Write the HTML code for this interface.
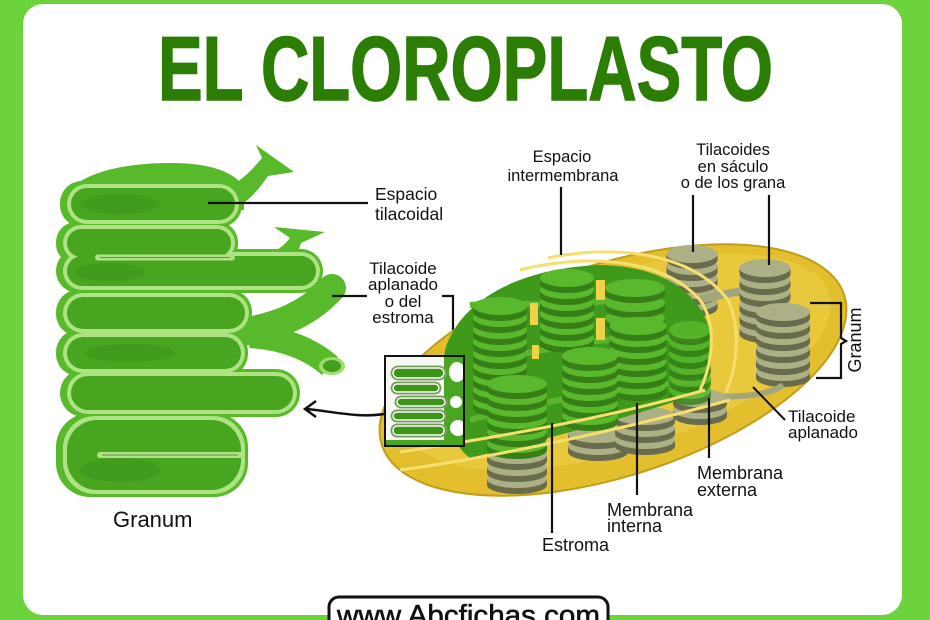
<!DOCTYPE html>
<html><head><meta charset="utf-8">
<style>
html,body{margin:0;padding:0;background:#6cd33d;}
body{width:930px;height:620px;overflow:hidden;}
svg{display:block}
text{font-family:"Liberation Sans",sans-serif;fill:#111;}
</style></head><body>
<svg width="930" height="620" viewBox="0 0 930 620" xmlns="http://www.w3.org/2000/svg">
<defs>
  <g id="dg">
    <ellipse cx="0" cy="6" rx="30" ry="9" fill="#357f16"/>
    <rect x="-30" y="0" width="60" height="6" fill="#357f16"/>
    <ellipse cx="0" cy="0" rx="30" ry="9" fill="#5ab82c"/>
  </g>
  <g id="dy">
    <ellipse cx="0" cy="6" rx="30" ry="9" fill="#686b4c"/>
    <rect x="-30" y="0" width="60" height="6" fill="#686b4c"/>
    <ellipse cx="0" cy="0" rx="30" ry="9" fill="#adb085"/>
  </g>
  <clipPath id="inset"><rect x="385" y="356" width="79" height="90"/></clipPath>
</defs>

<rect width="930" height="620" fill="#6cd33d"/>
<rect x="23" y="4" width="879" height="611" rx="20" fill="#fff"/>

<text x="158" y="100" font-size="91" font-weight="bold" textLength="615" lengthAdjust="spacingAndGlyphs" style="fill:#2b7d04;stroke:#2b7d04;stroke-width:1.5">EL CLOROPLASTO</text>

<!-- LEFT GRANUM -->
<g>
  <!-- mid-green body -->
  <g fill="#58b92b">
    <path d="M64,205 C66,175 120,163 170,163 C212,163 232,172 244,186 L244,210 Z"/>
    <path d="M212,194 C238,186 250,172 262,158 L256,145 L294,172 L268,176 C256,194 242,208 222,214 Z"/>
    <path d="M255,262 C272,255 284,246 290,238 L274,227 L325,232 L301,243 C297,256 291,268 280,276 Z"/>
    <rect x="60" y="181" width="182" height="46" rx="22"/>
    <rect x="56" y="222" width="182" height="42" rx="20"/>
    <rect x="56" y="249" width="267" height="44" rx="22"/>
    <rect x="56" y="290" width="196" height="46" rx="22"/>
    <rect x="56" y="330" width="192" height="46" rx="22"/>
    <rect x="60" y="369" width="240" height="48" rx="24"/>
    <rect x="56" y="413" width="192" height="84" rx="34"/>
  </g>
  <!-- branch -->
  <path d="M232,334 C270,328 305,318 332,288" stroke="#58b92b" stroke-width="28" fill="none" stroke-linecap="round"/>
  <path d="M250,336 C285,338 312,350 330,366" stroke="#58b92b" stroke-width="24" fill="none"/>
  <ellipse cx="332" cy="366" rx="13" ry="9" fill="#9fdc6e"/>
  <ellipse cx="332" cy="366" rx="9" ry="6" fill="#449f1e"/>

  <!-- lumen rims -->
  <g fill="#aee383">
    <rect x="67" y="184" width="172" height="40" rx="20"/>
    <rect x="63" y="225" width="172" height="36" rx="18"/>
    <rect x="63" y="252" width="257" height="38" rx="19"/>
    <rect x="63" y="293" width="186" height="40" rx="20"/>
    <rect x="63" y="333" width="182" height="40" rx="20"/>
    <rect x="67" y="372" width="230" height="42" rx="21"/>
    <rect x="63" y="416" width="182" height="78" rx="32"/>
  </g>
  <!-- lumen interiors -->
  <g fill="#47a520">
    <rect x="71" y="188" width="164" height="32" rx="16"/>
    <rect x="67" y="229" width="164" height="28" rx="14"/>
    <rect x="67" y="256" width="249" height="30" rx="15"/>
    <rect x="67" y="297" width="178" height="32" rx="16"/>
    <rect x="67" y="337" width="174" height="32" rx="16"/>
    <rect x="71" y="376" width="222" height="34" rx="17"/>
    <rect x="67" y="420" width="174" height="70" rx="30"/>
  </g>
  <g fill="#3c9419" opacity="0.5">
    <ellipse cx="120" cy="204" rx="40" ry="10"/>
    <ellipse cx="110" cy="272" rx="35" ry="9"/>
    <ellipse cx="130" cy="353" rx="45" ry="9"/>
    <ellipse cx="120" cy="470" rx="40" ry="12"/>
  </g>
  <path d="M98,257.5 L232,257.5" stroke="#aee383" stroke-width="6" stroke-linecap="round"/>
  <path d="M100,257.5 L230,257.5" stroke="#6f8a50" stroke-width="1"/>
  <path d="M100,455 L241,455" stroke="#aee383" stroke-width="6" stroke-linecap="round"/>
  <path d="M102,455 L238,455" stroke="#6f8a50" stroke-width="1"/>
</g>

<text x="113" y="527" font-size="22">Granum</text>

<!-- left labels -->
<line x1="208" y1="203" x2="368" y2="203" stroke="#111" stroke-width="2.2"/>
<text x="375" y="200" font-size="17.5">Espacio</text>
<text x="375" y="220" font-size="17.5">tilacoidal</text>

<text x="403" y="274" font-size="17" text-anchor="middle">Tilacoide</text>
<text x="403" y="290" font-size="17" text-anchor="middle">aplanado</text>
<text x="403" y="307" font-size="17" text-anchor="middle">o del</text>
<text x="403" y="323" font-size="17" text-anchor="middle">estroma</text>
<line x1="332" y1="296" x2="367" y2="296" stroke="#111" stroke-width="2.2"/>
<polyline points="442,296 453,296 453,358" fill="none" stroke="#111" stroke-width="2.2"/>

<!-- CHLOROPLAST -->
<ellipse cx="613" cy="370" rx="243" ry="106" transform="rotate(-18 613 370)" fill="#e3bf2e" stroke="#c29d1a" stroke-width="2"/>
<ellipse cx="618" cy="362" rx="222" ry="88" transform="rotate(-18 618 362)" fill="#e9c93c"/>

<!-- back gray stacks -->
<g transform="translate(692,0) scale(0.85,1)">
  <use href="#dy" y="302"/><use href="#dy" y="290"/><use href="#dy" y="278"/><use href="#dy" y="266"/><use href="#dy" y="254"/>
</g>
<path d="M700,300 C720,295 740,290 760,290" stroke="#a3a67a" stroke-width="8" fill="none"/>
<g transform="translate(765,0) scale(0.85,1)">
  <use href="#dy" y="328"/><use href="#dy" y="316"/><use href="#dy" y="304"/><use href="#dy" y="292"/><use href="#dy" y="280"/><use href="#dy" y="268"/>
</g>
<g transform="translate(783,0) scale(0.9,1)">
  <use href="#dy" y="372"/><use href="#dy" y="360"/><use href="#dy" y="348"/><use href="#dy" y="336"/><use href="#dy" y="324"/><use href="#dy" y="312"/>
</g>
<path d="M783,385 C770,395 740,398 700,396" stroke="#a3a67a" stroke-width="6" fill="none"/>

<!-- bottom gray stacks -->
<g transform="translate(517,0)"><use href="#dy" y="479"/><use href="#dy" y="467"/><use href="#dy" y="455"/></g>
<g transform="translate(598,0)"><use href="#dy" y="446"/><use href="#dy" y="434"/></g>
<g transform="translate(645,0)"><use href="#dy" y="440"/><use href="#dy" y="428"/><use href="#dy" y="416"/></g>
<g transform="translate(700,0) scale(0.9,1)"><use href="#dy" y="410"/><use href="#dy" y="398"/></g>

<!-- green stroma region -->
<path d="M445,350 C460,300 520,268 600,265 C665,266 705,295 712,340 L708,390 C640,415 560,435 470,458 C445,440 440,390 445,350 Z" fill="#3f9a1c"/>
<path d="M470,305 C520,300 560,310 610,300 M480,360 C540,355 600,330 700,340 M470,420 C540,400 620,390 700,380" stroke="#5cb52e" stroke-width="6" fill="none"/>
<rect x="530" y="303" width="8" height="22" fill="#f0d24a"/>
<rect x="596" y="280" width="9" height="20" fill="#f0d24a"/>
<rect x="596" y="318" width="9" height="22" fill="#f0d24a"/>
<rect x="532" y="345" width="7" height="14" fill="#f0d24a"/>

<!-- green stacks -->
<g transform="translate(635,0)"><use href="#dg" y="318"/><use href="#dg" y="303"/><use href="#dg" y="288"/></g>
<g transform="translate(567,0) scale(0.9,1)">
  <use href="#dg" y="338"/><use href="#dg" y="326"/><use href="#dg" y="314"/><use href="#dg" y="302"/><use href="#dg" y="290"/><use href="#dg" y="278"/>
</g>
<g transform="translate(690,0) scale(0.7,1)" opacity="0.8">
  <use href="#dg" y="390"/><use href="#dg" y="378"/><use href="#dg" y="366"/><use href="#dg" y="354"/><use href="#dg" y="342"/><use href="#dg" y="330"/>
</g>
<g transform="translate(638,0) scale(0.95,1)">
  <use href="#dg" y="386"/><use href="#dg" y="374"/><use href="#dg" y="362"/><use href="#dg" y="350"/><use href="#dg" y="338"/><use href="#dg" y="326"/>
</g>
<g transform="translate(500,0) scale(0.9,1)">
  <use href="#dg" y="402"/><use href="#dg" y="390"/><use href="#dg" y="378"/><use href="#dg" y="366"/><use href="#dg" y="354"/><use href="#dg" y="342"/><use href="#dg" y="330"/><use href="#dg" y="318"/><use href="#dg" y="306"/>
</g>
<g transform="translate(590,0) scale(0.93,1)">
  <use href="#dg" y="416"/><use href="#dg" y="404"/><use href="#dg" y="392"/><use href="#dg" y="380"/><use href="#dg" y="368"/><use href="#dg" y="356"/>
</g>
<g transform="translate(517,0)">
  <use href="#dg" y="444"/><use href="#dg" y="432"/><use href="#dg" y="420"/><use href="#dg" y="408"/><use href="#dg" y="396"/><use href="#dg" y="384"/>
</g>

<!-- membranes -->
<path d="M520,270 C580,255 660,255 700,300 C718,325 712,365 700,390" stroke="#f5df6e" stroke-width="3" fill="none"/>
<path d="M548,258 C610,245 690,250 728,300 C742,330 736,370 726,392" stroke="#f5df6e" stroke-width="3" fill="none"/>
<path d="M400,452 C480,440 600,420 705,390" stroke="#f5df6e" stroke-width="3" fill="none"/>
<path d="M400,470 C490,458 620,430 730,400" stroke="#f5df6e" stroke-width="3" fill="none"/>

<!-- inset box -->
<g clip-path="url(#inset)">
  <rect x="385" y="356" width="79" height="90" fill="#f7f7f2"/>
  <rect x="444" y="356" width="22" height="90" fill="#4aa522"/>
  <ellipse cx="457" cy="372" rx="8" ry="10" fill="#fff"/>
  <ellipse cx="456" cy="402" rx="6" ry="6" fill="#fff"/>
  <ellipse cx="458" cy="428" rx="8" ry="8" fill="#fff"/>
  <rect x="385" y="440" width="79" height="8" fill="#4aa522"/>
  <g fill="#3c9419" stroke="#9aa08a" stroke-width="1">
    <rect x="391" y="366" width="55" height="14" rx="7"/>
    <rect x="391" y="382" width="50" height="12" rx="6"/>
    <rect x="395" y="396" width="52" height="12" rx="6"/>
    <rect x="391" y="410" width="55" height="12" rx="6"/>
    <rect x="391" y="424" width="55" height="13" rx="6"/>
  </g>
  <g fill="none" stroke="#fff" stroke-width="1.5">
    <rect x="393" y="368" width="51" height="10" rx="5"/>
    <rect x="393" y="384" width="46" height="8" rx="4"/>
    <rect x="397" y="398" width="48" height="8" rx="4"/>
    <rect x="393" y="412" width="51" height="8" rx="4"/>
    <rect x="393" y="426" width="51" height="9" rx="4"/>
  </g>
</g>
<rect x="385" y="356" width="79" height="90" fill="none" stroke="#111" stroke-width="2"/>

<!-- arrow -->
<path d="M384,414 C360,418 335,412 307,409" stroke="#111" stroke-width="2.5" fill="none"/>
<polyline points="316,401 305,409 316,417" stroke="#111" stroke-width="2.5" fill="none"/>

<!-- right labels -->
<text x="562" y="162" font-size="16.5" text-anchor="middle">Espacio</text>
<text x="563" y="181" font-size="16.5" text-anchor="middle">intermembrana</text>
<line x1="561" y1="187" x2="561" y2="255" stroke="#111" stroke-width="2.2"/>

<text x="733" y="155" font-size="16.5" text-anchor="middle">Tilacoides</text>
<text x="733" y="172" font-size="16.5" text-anchor="middle">en sáculo</text>
<text x="733" y="188" font-size="16.5" text-anchor="middle">o de los grana</text>
<line x1="693" y1="195" x2="693" y2="252" stroke="#111" stroke-width="2.2"/>
<line x1="769" y1="195" x2="769" y2="265" stroke="#111" stroke-width="2.2"/>

<polyline points="810,303 841,303 841,338 846,341 841,344 841,378 816,378" fill="none" stroke="#111" stroke-width="2.2"/>
<text transform="translate(861,340) rotate(-90)" font-size="18" text-anchor="middle">Granum</text>

<line x1="753" y1="387" x2="785" y2="420" stroke="#111" stroke-width="2"/>
<text x="788" y="422" font-size="17">Tilacoide</text>
<text x="788" y="438" font-size="17">aplanado</text>

<line x1="709" y1="398" x2="709" y2="458" stroke="#111" stroke-width="2.2"/>
<text x="697" y="479" font-size="18">Membrana</text>
<text x="697" y="496" font-size="18">externa</text>

<line x1="637" y1="403" x2="637" y2="495" stroke="#111" stroke-width="2.2"/>
<text x="607" y="516" font-size="18">Membrana</text>
<text x="607" y="532" font-size="18">interna</text>

<line x1="552" y1="423" x2="552" y2="533" stroke="#111" stroke-width="2.2"/>
<text x="542" y="551" font-size="18">Estroma</text>

<!-- website -->
<rect x="329" y="597" width="279" height="40" rx="10" fill="#fff" stroke="#111" stroke-width="3"/>
<text x="337" y="625" font-size="29" textLength="263" lengthAdjust="spacingAndGlyphs" style="stroke:#111;stroke-width:0.6">www.Abcfichas.com</text>
</svg>
</body></html>
